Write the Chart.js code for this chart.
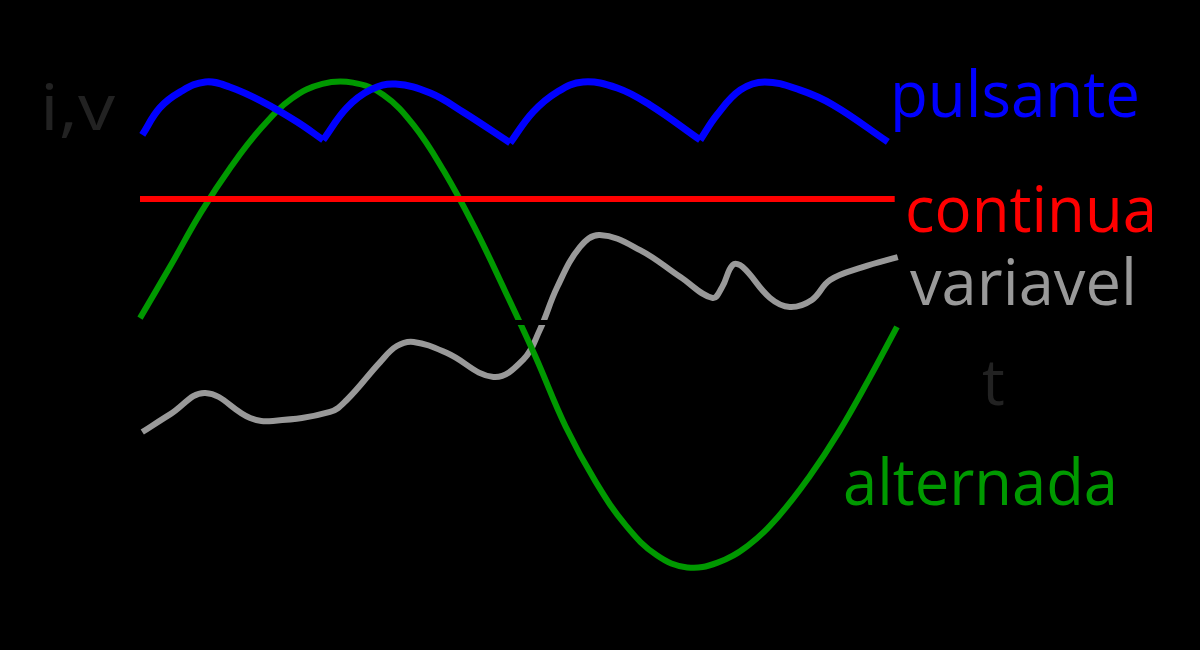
<!DOCTYPE html>
<html>
<head>
<meta charset="utf-8">
<script src="https://cdn.jsdelivr.net/npm/chart.js@4.4.1/dist/chart.umd.min.js"></script>
<style>
  html, body { margin: 0; padding: 0; background: #000; }
  #wrap { width: 1200px; height: 650px; }
</style>
</head>
<body>
<div id="wrap"><canvas id="waves" width="1200" height="650"></canvas></div>
<script>
// t = time, v = i,v value (arbitrary units, 0 = time axis)
const pulsanteT = [0.3, 2.6, 5.3, 8.6, 11.8, 16.2, 20.7, 24.1,
                   27.2, 30.3, 33.6, 38.2, 42.5, 48.7,
                   51.7, 54.9, 58.3, 62.8, 67.1, 73.7,
                   75.9, 79.0, 82.2, 86.8, 91.2, 98.4];
const pulsanteV = [77.0, 88.1, 94.7, 98.8, 96.7, 90.5, 82.3, 74.9,
                   88.1, 95.5, 97.9, 94.2, 86.4, 73.7,
                   86.4, 94.7, 98.8, 96.3, 89.3, 74.9,
                   85.2, 95.5, 98.8, 95.5, 89.3, 74.1];
const pulsanteCusps = [0, 7, 13, 19, 25];

const continuaT = [0, 99.3];
const continuaV = [50.6, 50.6];

const variavelT = [0.3, 4.0, 8.6, 14.5, 17.5, 25.0, 27.2, 31.6, 33.8, 36.0,
                   40.4, 46.5, 50.4, 52.6, 54.9, 57.9, 60.5, 65.8, 71.1, 75.3, 76.6,
                   78.0, 79.3, 82.9, 85.5, 88.4, 90.8, 95.1, 99.7];
const variavelV = [-45.3, -37.9, -29.2, -39.5, -40.7, -37.0, -32.1, -16.5, -9.9, -8.2,
                   -12.8, -22.6, -15.6, -3.3, 14.4, 30.9, 35.8, 29.6, 18.5, 9.9, 14.4,
                   23.5, 22.6, 9.9, 6.2, 9.1, 17.3, 22.6, 26.7];

const alternadaT = [0, 4, 8, 12, 16, 20, 24, 28, 32, 36, 40, 44, 48, 52,
                    56, 60, 64, 68, 72, 76, 80, 84, 88, 92, 96, 99.6];
const alternadaV = [1.6, 23, 45, 64, 80, 92, 98, 98.5, 93.5, 81, 62, 39, 13, -14,
                    -43, -66, -84, -96, -101, -99, -92, -80, -64, -45, -23, -2];

const axisT = [0, 100];
const axisV = [-0.2, -0.2];

function points(ts, vs) {
  return ts.map((t, i) => ({ x: t, y: vs[i] }));
}

function line(data, color, width, tension) {
  return {
    data: data,
    borderColor: color,
    borderWidth: width,
    pointRadius: 0,
    fill: false,
    tension: tension,
  };
}

// blue wave: one smooth arc between each pair of cusps
const pulsanteArcs = [];
for (let k = 0; k < pulsanteCusps.length - 1; k++) {
  const a = pulsanteCusps[k], b = pulsanteCusps[k + 1] + 1;
  pulsanteArcs.push(line(points(pulsanteT.slice(a, b), pulsanteV.slice(a, b)), "#0000ff", 7, 0.4));
}

// dataset 0 is painted last (on top)
const datasets = [
  line(points(axisT, axisV), "#000000", 5, 0),
  ...pulsanteArcs,
  line(points(continuaT, continuaV), "#ff0000", 6, 0),
  line(points(alternadaT, alternadaV), "#009900", 6, 0.4),
  line(points(variavelT, variavelV), "#999999", 6, 0.4),
];

const textLabels = {
  id: "textLabels",
  afterDraw(chart) {
    const ctx = chart.ctx;
    const items = [
      { text: "i,v", color: "#222222", x: 40, y: 130, w: 75 },
      { text: "pulsante", color: "#0000ff", x: 890, y: 117, w: 250 },
      { text: "continua", color: "#ff0000", x: 905, y: 232, w: 252 },
      { text: "variavel", color: "#999999", x: 910, y: 305, w: 227 },
      { text: "t", color: "#222222", x: 982, y: 405, w: 0 },
      { text: "alternada", color: "#009900", x: 843, y: 505, w: 275 },
    ];
    ctx.save();
    ctx.font = "64px 'Open Sans'";
    ctx.textBaseline = "alphabetic";
    ctx.textAlign = "left";
    items.forEach((it) => {
      const mw = ctx.measureText(it.text).width;
      const sx = it.w ? it.w / mw : 1;
      ctx.save();
      ctx.translate(it.x, it.y);
      ctx.scale(sx, 1);
      ctx.fillStyle = it.color;
      ctx.fillText(it.text, 0, 0);
      ctx.restore();
    });
    ctx.restore();
  },
};

new Chart(document.getElementById("waves"), {
  type: "line",
  data: { datasets: datasets },
  options: {
    responsive: false,
    animation: false,
    events: [],
    layout: { padding: 0 },
    plugins: { legend: { display: false }, tooltip: { enabled: false } },
    scales: {
      x: { type: "linear", display: false, min: -18.42, max: 139.47 },
      y: { type: "linear", display: false, min: -134.98, max: 132.51 },
    },
  },
  plugins: [textLabels],
});
</script>
</body>
</html>
